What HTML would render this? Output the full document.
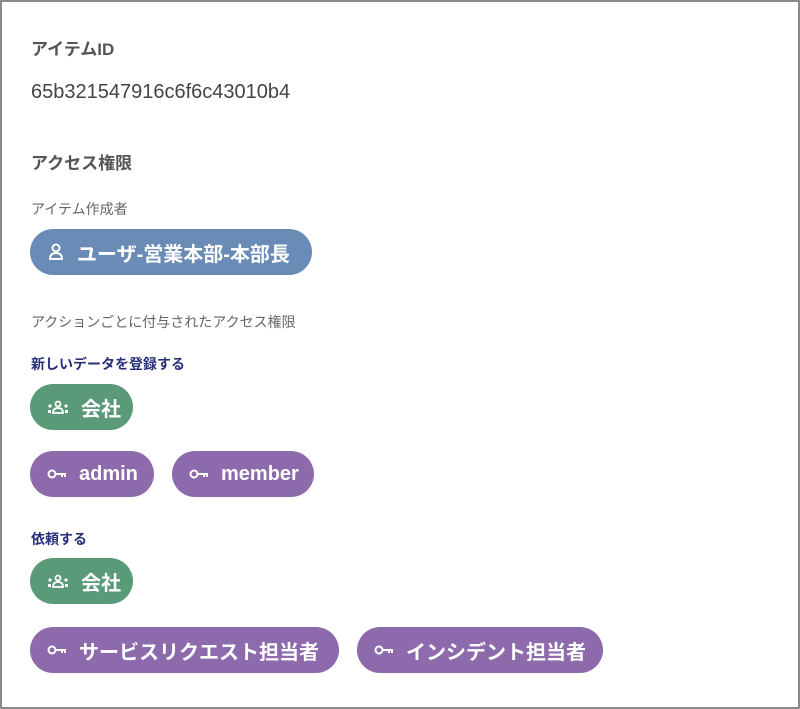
<!DOCTYPE html>
<html><head><meta charset="utf-8"><style>
body{margin:0;width:800px;height:709px;background:#fff;font-family:"Liberation Sans","Noto Sans CJK JP",sans-serif;position:relative;overflow:hidden}
.frame{position:absolute;left:0;top:0;width:796px;height:705px;border:2px solid #8a8a8a}
.t{position:absolute;white-space:nowrap}
.chip{position:absolute;height:46px;border-radius:23px;color:#fff;font-size:20px;font-weight:bold;display:flex;align-items:center;padding:0 0 0 17px;box-sizing:border-box;white-space:nowrap}
.chip svg{margin-right:12px}
.b{background:#6a8bb5}.g{background:#5b9a78}.p{background:#8d6aab}
</style></head><body>
<div class="frame"></div>
<div class="t" style="left:31px;top:35px;font-size:17px;font-weight:bold;color:#555">アイテムID</div>
<div class="t" style="left:31px;top:81px;font-size:20px;color:#444">65b321547916c6f6c43010b4</div>
<div class="t" style="left:31px;top:149px;font-size:17px;font-weight:bold;color:#555">アクセス権限</div>
<div class="t" style="left:31px;top:199px;font-size:14px;color:#666">アイテム作成者</div>
<div class="chip b" style="left:30px;top:229px;width:282px"><svg width="18" height="18" viewBox="0 0 16 18"><circle cx="8" cy="5" r="3.5" fill="none" stroke="#fff" stroke-width="2"/><path d="M2 16 Q2 10 8 10 Q14 10 14 16 Z" fill="none" stroke="#fff" stroke-width="2"/></svg>ユーザ-営業本部-本部長</div>
<div class="t" style="left:31px;top:312px;font-size:14px;color:#666">アクションごとに付与されたアクセス権限</div>
<div class="t" style="left:31px;top:354px;font-size:14px;font-weight:bold;color:#2a2f7a">新しいデータを登録する</div>
<div class="chip g" style="left:30px;top:384px;width:103px"><svg width="22" height="14" viewBox="0 0 22 14"><circle cx="11" cy="4" r="2.5" fill="none" stroke="#fff" stroke-width="1.8"/><path d="M6 13 Q6 8 11 8 Q16 8 16 13Z" fill="none" stroke="#fff" stroke-width="1.8"/><circle cx="3" cy="6" r="1.6" fill="#fff"/><circle cx="19" cy="6" r="1.6" fill="#fff"/><rect x="1" y="10" width="3" height="3" fill="#fff"/><rect x="18" y="10" width="3" height="3" fill="#fff"/></svg>会社</div>
<div class="chip p" style="left:30px;top:451px;width:124px"><svg width="20" height="12" viewBox="0 0 20 12"><circle cx="5" cy="6" r="3.5" fill="none" stroke="#fff" stroke-width="2"/><path d="M9 6H19M15 6V9M18 6V9" stroke="#fff" stroke-width="2"/></svg>admin</div>
<div class="chip p" style="left:172px;top:451px;width:142px"><svg width="20" height="12" viewBox="0 0 20 12"><circle cx="5" cy="6" r="3.5" fill="none" stroke="#fff" stroke-width="2"/><path d="M9 6H19M15 6V9M18 6V9" stroke="#fff" stroke-width="2"/></svg>member</div>
<div class="t" style="left:31px;top:529px;font-size:14px;font-weight:bold;color:#2a2f7a">依頼する</div>
<div class="chip g" style="left:30px;top:558px;width:103px"><svg width="22" height="14" viewBox="0 0 22 14"><circle cx="11" cy="4" r="2.5" fill="none" stroke="#fff" stroke-width="1.8"/><path d="M6 13 Q6 8 11 8 Q16 8 16 13Z" fill="none" stroke="#fff" stroke-width="1.8"/><circle cx="3" cy="6" r="1.6" fill="#fff"/><circle cx="19" cy="6" r="1.6" fill="#fff"/><rect x="1" y="10" width="3" height="3" fill="#fff"/><rect x="18" y="10" width="3" height="3" fill="#fff"/></svg>会社</div>
<div class="chip p" style="left:30px;top:627px;width:309px"><svg width="20" height="12" viewBox="0 0 20 12"><circle cx="5" cy="6" r="3.5" fill="none" stroke="#fff" stroke-width="2"/><path d="M9 6H19M15 6V9M18 6V9" stroke="#fff" stroke-width="2"/></svg>サービスリクエスト担当者</div>
<div class="chip p" style="left:357px;top:627px;width:246px"><svg width="20" height="12" viewBox="0 0 20 12"><circle cx="5" cy="6" r="3.5" fill="none" stroke="#fff" stroke-width="2"/><path d="M9 6H19M15 6V9M18 6V9" stroke="#fff" stroke-width="2"/></svg>インシデント担当者</div>
</body></html>
